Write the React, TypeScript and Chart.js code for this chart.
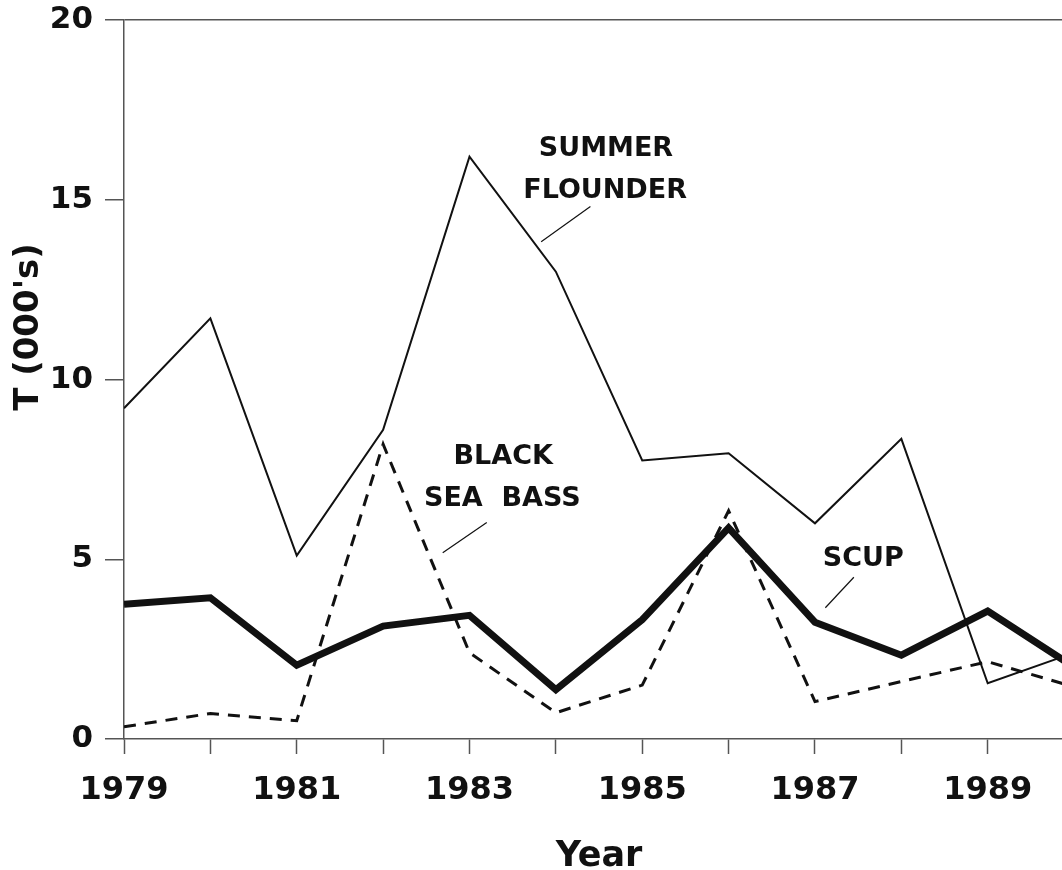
import React, { useEffect, useRef } from "react";
import { Chart, registerables } from "chart.js";

Chart.register(...registerables);

const years = [1979, 1980, 1981, 1982, 1983, 1984, 1985, 1986, 1987, 1988, 1989, 1990];
const summerFlounder = [9.2, 11.7, 5.1, 8.6, 16.2, 13.0, 7.75, 7.95, 6.0, 8.35, 1.55, 2.4];
const scup = [3.75, 3.93, 2.05, 3.14, 3.44, 1.37, 3.32, 5.87, 3.25, 2.33, 3.56, 2.0];
const blackSeaBass = [0.34, 0.71, 0.51, 8.2, 2.4, 0.73, 1.5, 6.35, 1.04, 1.6, 2.15, 1.45];
const xTickLabels = ["1979", "1981", "1983", "1985", "1987", "1989"];
const yTickValues = [0, 5, 10, 15, 20];

const xTitle = "Year";
const yTitle = "T (000's)";

// label annotations, positioned in data units (year, value)
const labels = [
  { text: "SUMMER", x: 1984.58, y: 16.42 },
  { text: "FLOUNDER", x: 1984.57, y: 15.25 },
  { text: "BLACK", x: 1983.39, y: 7.85 },
  { text: "SEA  BASS", x: 1983.38, y: 6.67 },
  { text: "SCUP", x: 1987.56, y: 5.02 },
];
const leaders = [
  { x1: 1984.4, y1: 14.81, x2: 1983.83, y2: 13.83 },
  { x1: 1983.2, y1: 6.02, x2: 1982.69, y2: 5.18 },
  { x1: 1987.45, y1: 4.5, x2: 1987.12, y2: 3.65 },
];

const FONT = "'DejaVu Sans', sans-serif";
const INK = "#111";
const AXIS = "#555";

const toPoints = (vals: number[]) => vals.map((v, i) => ({ x: years[i], y: v }));

export default function App() {
  const ref = useRef<HTMLCanvasElement | null>(null);

  useEffect(() => {
    document.body.style.margin = "0";
    const canvas = ref.current;
    if (!canvas) return;

    const overlay = {
      id: "overlay",
      afterDatasetsDraw(chart: any) {
        const ctx = chart.ctx;
        const xs = chart.scales.x;
        const ys = chart.scales.y;
        ctx.save();
        ctx.fillStyle = INK;
        ctx.font = `bold 27px ${FONT}`;
        ctx.textAlign = "center";
        ctx.textBaseline = "middle";
        labels.forEach((l) => {
          ctx.fillText(l.text, xs.getPixelForValue(l.x), ys.getPixelForValue(l.y));
        });
        ctx.strokeStyle = INK;
        ctx.lineWidth = 1.2;
        leaders.forEach((l) => {
          ctx.beginPath();
          ctx.moveTo(xs.getPixelForValue(l.x1), ys.getPixelForValue(l.y1));
          ctx.lineTo(xs.getPixelForValue(l.x2), ys.getPixelForValue(l.y2));
          ctx.stroke();
        });
        // axis titles
        ctx.font = `bold 35px ${FONT}`;
        ctx.textBaseline = "alphabetic";
        ctx.fillText(xTitle, (chart.chartArea.left + chart.chartArea.right) / 2 + 6, 866);
        ctx.translate(38, 327);
        ctx.rotate(-Math.PI / 2);
        ctx.font = `bold 34px ${FONT}`;
        ctx.fillText(yTitle, 0, 0);
        ctx.restore();
      },
    };

    const chart = new Chart(canvas, {
      type: "line",
      data: {
        datasets: [
          {
            label: "SUMMER FLOUNDER",
            data: toPoints(summerFlounder),
            borderColor: INK,
            borderWidth: 2,
            pointRadius: 0,
            tension: 0,
          },
          {
            label: "BLACK SEA BASS",
            data: toPoints(blackSeaBass),
            borderColor: INK,
            borderWidth: 3,
            borderDash: [12, 9],
            pointRadius: 0,
            tension: 0,
          },
          {
            label: "SCUP",
            data: toPoints(scup),
            borderColor: INK,
            borderWidth: 7,
            pointRadius: 0,
            tension: 0,
          },
        ],
      },
      options: {
        animation: false,
        responsive: false,
        layout: { autoPadding: false, padding: { top: 20, right: 0, left: 0, bottom: 0 } },
        plugins: { legend: { display: false }, tooltip: { enabled: false } },
        scales: {
          x: {
            type: "linear",
            min: years[0],
            max: 1989.86,
            afterFit: (s: any) => {
              s.height = 131;
              s.paddingLeft = 0;
              s.paddingRight = 0;
            },
            afterBuildTicks: (s: any) => {
              s.ticks = years.filter((y) => y <= s.max).map((v) => ({ value: v }));
            },
            ticks: {
              stepSize: 1,
              autoSkip: false,
              maxRotation: 0,
              padding: 17,
              color: INK,
              font: { family: FONT, size: 32, weight: "bold" },
              callback: (v: any) => {
                const s = String(Math.round(Number(v)));
                return xTickLabels.includes(s) ? s : "";
              },
            },
            grid: {
              drawOnChartArea: false,
              color: "rgba(0,0,0,0)",
              tickColor: AXIS,
              tickLength: 15,
              tickWidth: 1.5,
            },
            border: { display: true, color: AXIS, width: 1.5 },
          },
          y: {
            min: 0,
            max: 20,
            afterFit: (s: any) => {
              s.width = 124;
              s.paddingTop = 0;
              s.paddingBottom = 0;
            },
            afterBuildTicks: (s: any) => {
              s.ticks = yTickValues.map((v) => ({ value: v }));
            },
            ticks: {
              stepSize: 5,
              padding: 12,
              color: INK,
              font: { family: FONT, size: 31, weight: "bold" },
            },
            grid: {
              color: (c: any) => (c.tick && c.tick.value === 20 ? AXIS : "rgba(0,0,0,0)"),
              tickColor: AXIS,
              tickLength: 19,
              lineWidth: 1.5,
              tickWidth: 1.5,
            },
            border: { display: true, color: AXIS, width: 1.5 },
          },
        },
      },
      plugins: [overlay],
    });
    return () => chart.destroy();
  }, []);

  return (
    <div style={{ width: 1062, height: 870, background: "#fff" }}>
      <canvas ref={ref} width={1062} height={870} style={{ display: "block" }} />
    </div>
  );
}
